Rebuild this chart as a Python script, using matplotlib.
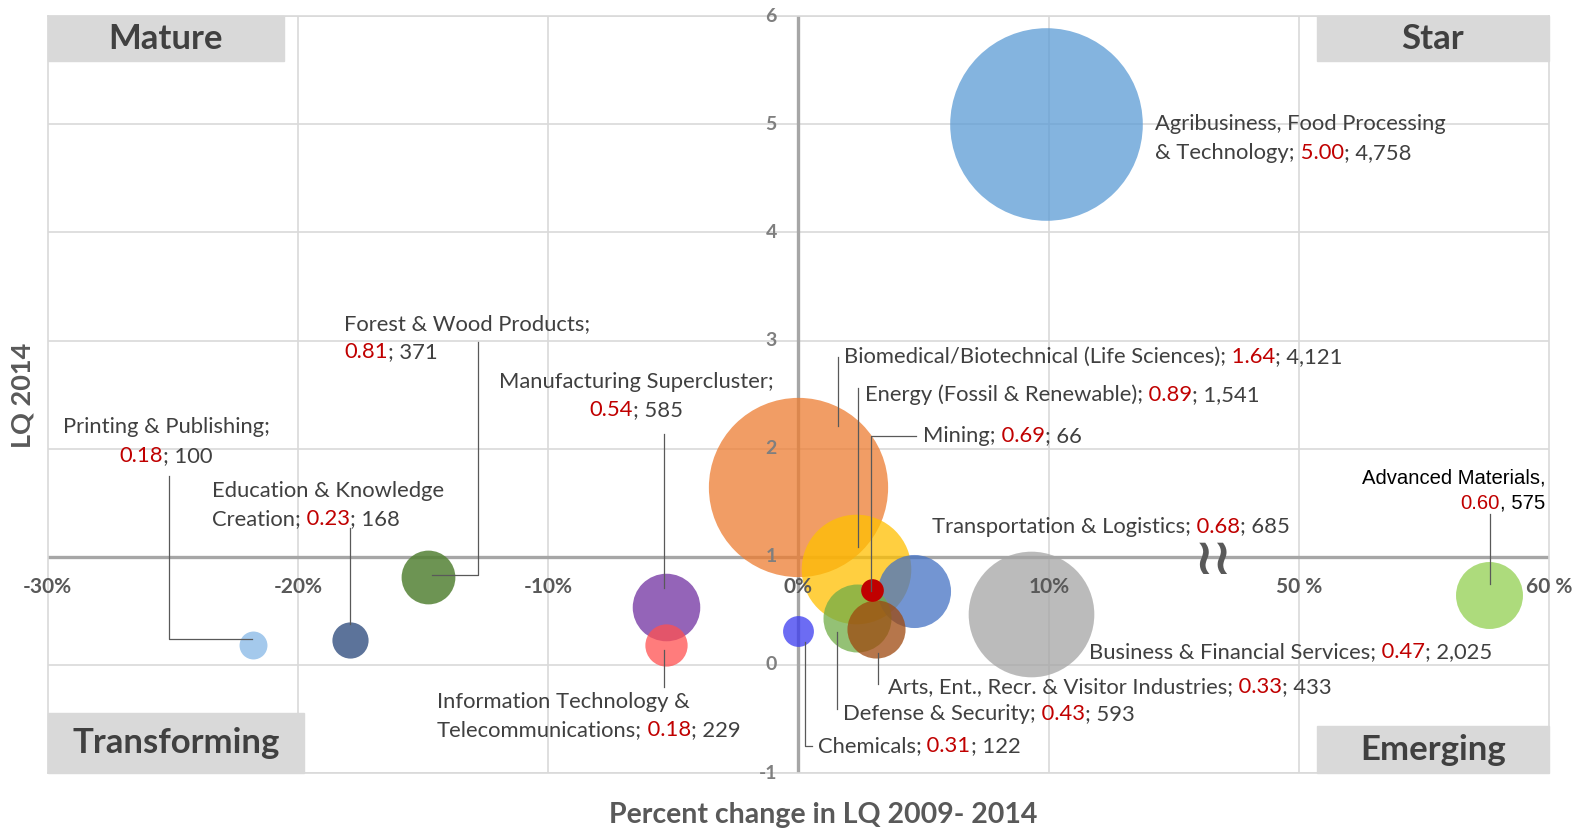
import matplotlib
matplotlib.use("Agg")
import matplotlib.pyplot as plt
from matplotlib.patches import Rectangle
from matplotlib.transforms import ScaledTranslation

# --- data -------------------------------------------------------------
clusters = [
    "Agribusiness, Food Processing & Technology",
    "Biomedical/Biotechnical (Life Sciences)",
    "Energy (Fossil & Renewable)",
    "Transportation & Logistics",
    "Business & Financial Services",
    "Defense & Security",
    "Arts, Ent., Recr. & Visitor Industries",
    "Mining",
    "Chemicals",
    "Manufacturing Supercluster",
    "Information Technology & Telecommunications",
    "Forest & Wood Products",
    "Education & Knowledge Creation",
    "Printing & Publishing",
    "Advanced Materials",
]
pct_change = [9.9, 0.0, 2.3, 4.6, 9.3, 2.35, 3.1, 2.95, 0.0, -5.3, -5.3, -14.8, -17.9, -21.8, 57.6]
lq_2014 = [5.00, 1.65, 0.89, 0.68, 0.47, 0.43, 0.33, 0.69, 0.31, 0.54, 0.18, 0.81, 0.23, 0.18, 0.65]
lq_labels = ["5.00", "1.64", "0.89", "0.68", "0.47", "0.43", "0.33", "0.69", "0.31",
             "0.54", "0.18", "0.81", "0.23", "0.18", "0.60"]
employment = [4758, 4121, 1541, 685, 2025, 593, 433, 66, 122, 585, 229, 371, 168, 100, 575]
colors = ["#5B9BD5", "#ED7D31", "#FFC000", "#4472C4", "#A5A5A5", "#70AD47", "#9E480E",
          "#C00000", "#3B3BF0", "#7030A0", "#FF5050", "#548235", "#264478", "#8DBCE8", "#92D050"]
alphas = [0.75, 0.75, 0.75, 0.75, 0.75, 0.75, 0.75, 1.0, 0.75, 0.75, 0.75, 0.85, 0.75, 0.8, 0.75]

x_ticks = [-30, -20, -10, 0, 10, 50, 60]
y_ticks = [-1, 0, 1, 2, 3, 4, 5, 6]

DARK = "#404040"
RED = "#C00000"
AXC = "#595959"
FONT = "Lato"


def broken_x(v):
    # axis is cut between 20% and 50%
    return v if v <= 20 else v - 30


fig = plt.figure(figsize=(15.89, 8.32), dpi=100)
ax = fig.add_axes([0.030, 0.0709, 0.945, 0.9096])
ax.set_xlim(-30, 30)
ax.set_ylim(-1, 6)

# grid
for gx in [-20, -10, 10, 20]:
    ax.axvline(gx, color="#D9D9D9", lw=1.2, zorder=0)
for gy in y_ticks:
    ax.axhline(gy, color="#D9D9D9", lw=1.2, zorder=0)
for s in ax.spines.values():
    s.set_color("#D9D9D9")
    s.set_linewidth(1.2)
ax.set_xticks([])
ax.set_yticks([])
ax.axhline(1, color="#A6A6A6", lw=2.4, zorder=1)
ax.axvline(0, color="#A6A6A6", lw=2.4, zorder=1)

# bubbles (area ~ employment)
r_max = 96.3  # px radius of largest bubble
for i in range(len(clusters)):
    r_pt = r_max * (employment[i] / max(employment)) ** 0.5 * 72 / fig.dpi
    ax.scatter(broken_x(pct_change[i]), lq_2014[i], s=(2 * r_pt) ** 2, color=colors[i],
               alpha=alphas[i], linewidths=0, zorder=3 + i * 0.01)

# tick labels
for t in y_ticks:
    ax.text(-0.86, t, str(t), ha="right", va="center", fontsize=14, fontweight="bold",
            color="#7F7F7F", family=FONT, zorder=4, clip_on=False)
for t in x_ticks:
    lab = f"{t}%" if t <= 20 else f"{t} %"
    ax.text(broken_x(t), 0.72, lab, ha="center", va="center", fontsize=15, fontweight="bold",
            color=AXC, family=FONT, zorder=6, clip_on=False)
ax.text(16.6, 0.97, "≀≀", ha="center", va="center", fontsize=36, fontweight="bold",
        color=AXC, zorder=6)

fig.text(0.518, 0.020, "Percent change in LQ 2009- 2014", ha="center", va="center",
         fontsize=20.5, fontweight="bold", color=AXC, family=FONT)
fig.text(0.014, 0.525, "LQ 2014", ha="center", va="center", rotation=90,
         fontsize=19.5, fontweight="bold", color=AXC, family=FONT)

# quadrant boxes
quads = [("Mature", 0.0, 0.941, 0.1576, 0.059),
         ("Star", 0.845, 0.941, 0.155, 0.059),
         ("Transforming", 0.0, 0.0, 0.171, 0.079),
         ("Emerging", 0.845, 0.0, 0.155, 0.062)]
for name, x0, y0, w, h in quads:
    ax.add_patch(Rectangle((x0, y0), w, h, transform=ax.transAxes, color="#D9D9D9",
                           zorder=7, clip_on=False))
    ax.text(x0 + w / 2, y0 + h / 2, name, transform=ax.transAxes, ha="center", va="center",
            fontsize=25, fontweight="bold", color=DARK, family=FONT, zorder=8)

# rich data labels
renderer = fig.canvas.get_renderer()


def rich_line(x, y, parts, ha="left", size=15.8, family=FONT):
    texts = [ax.text(x, y, s, color=c, fontsize=size, family=family, va="center",
                     ha="left", zorder=9) for s, c in parts]
    widths = [t.get_window_extent(renderer).width for t in texts]
    total = sum(widths)
    off = {"left": 0, "center": -total / 2, "right": -total}[ha]
    for t, w in zip(texts, widths):
        t.set_transform(ax.transData + ScaledTranslation(off / fig.dpi, 0, fig.dpi_scale_trans))
        off += w


def val_parts(i, head=None, sep="; "):
    p = [(head, DARK), (" " + lq_labels[i], RED)] if head else [(lq_labels[i], RED)]
    return p + [(sep + f"{employment[i]:,}", DARK)]


LS = 0.265
labels = [
    (0, [[("Agribusiness, Food Processing", DARK)], val_parts(0, "& Technology;")], 14.25, 5.0, "left"),
    (1, [val_parts(1, "Biomedical/Biotechnical (Life Sciences);")], 1.82, 2.846, "left"),
    (2, [val_parts(2, "Energy (Fossil & Renewable);")], 2.67, 2.50, "left"),
    (7, [val_parts(7, "Mining;")], 4.98, 2.115, "left"),
    (3, [val_parts(3, "Transportation & Logistics;")], 5.34, 1.28, "left"),
    (4, [val_parts(4, "Business & Financial Services;")], 11.62, 0.119, "left"),
    (6, [val_parts(6, "Arts, Ent., Recr. & Visitor Industries;")], 3.56, -0.209, "left"),
    (5, [val_parts(5, "Defense & Security;")], 1.78, -0.453, "left"),
    (8, [val_parts(8, "Chemicals;")], 0.77, -0.753, "left"),
    (10, [[("Information Technology &", DARK)], val_parts(10, "Telecommunications;")], -14.45, -0.34, "left"),
    (9, [[("Manufacturing Supercluster;", DARK)], val_parts(9)], -6.48, 2.62, "center"),
    (11, [[("Forest & Wood Products;", DARK)], val_parts(11)], -18.14, 3.156, "left"),
    (12, [[("Education & Knowledge", DARK)], val_parts(12, "Creation;")], -23.44, 1.61, "left"),
    (13, [[("Printing & Publishing;", DARK)], val_parts(13)], -25.26, 2.2, "center"),
]
for i, lines, lx, ly, ha in labels:
    for k, parts in enumerate(lines):
        rich_line(lx, ly - k * LS, parts, ha=ha)

adv = 14
rich_line(29.84, 1.73, [("Advanced Materials,", "black")], ha="right", size=14.6, family="Liberation Sans")
rich_line(29.84, 1.497, val_parts(adv, sep=", ")[:1] + [(", " + f"{employment[adv]:,}", "black")],
          ha="right", size=14.6, family="Liberation Sans")

# leader lines
leaders = [
    [(1.58, 2.846), (1.58, 2.21)],
    [(2.39, 2.565), (2.39, 1.094)],
    [(4.68, 2.115), (2.91, 2.115), (2.91, 0.683)],
    [(3.16, 0.11), (3.16, -0.18)],
    [(1.54, 0.30), (1.54, -0.406)],
    [(0.28, 0.213), (0.28, -0.753), (0.55, -0.753)],
    [(-5.36, 0.138), (-5.36, -0.204)],
    [(-5.36, 2.14), (-5.36, 0.71)],
    [(-12.79, 2.99), (-12.79, 0.828), (-14.65, 0.828)],
    [(-17.92, 1.27), (-17.92, 0.375)],
    [(-25.14, 1.746), (-25.14, 0.236), (-21.82, 0.236)],
    [(27.65, 1.40), (27.65, 0.747)],
]
for pts in leaders:
    xs, ys = zip(*pts)
    ax.plot(xs, ys, color=AXC, lw=0.9, zorder=8.5)

fig.savefig("out.png", dpi=100)
